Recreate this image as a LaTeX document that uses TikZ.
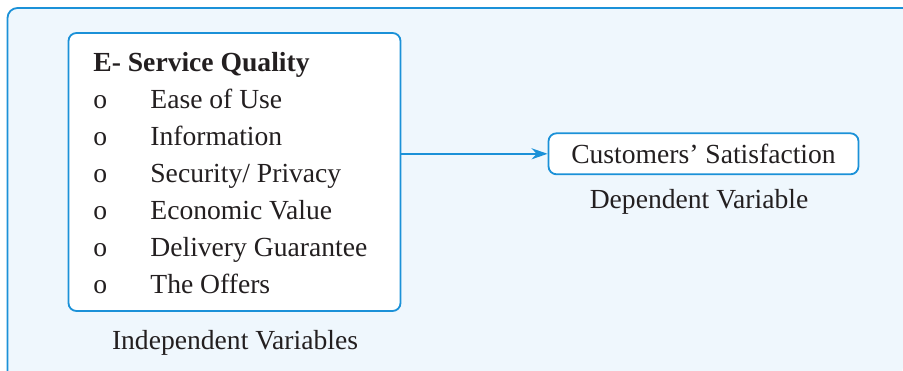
\documentclass[tikz,border=0pt]{standalone}
\usepackage{fontspec}
\setmainfont{Liberation Serif}
\usetikzlibrary{arrows.meta}
\definecolor{frameblue}{RGB}{27,145,216}
\definecolor{paleblue}{RGB}{239,247,253}
\definecolor{inkgray}{HTML}{231F20}
\begin{document}
\begin{tikzpicture}[x=0.5pt,y=-0.5pt,
	varbox/.style={draw=frameblue, line width=0.9pt, fill=white, rounded corners=4pt, inner sep=0pt},
	txt/.style={text=inkgray, font=\fontsize{13.8}{16}\selectfont, inner sep=0pt},
	item/.style={txt, anchor=base west}]
		\useasboundingbox (0,0) rectangle (903,370);

		% pale panel behind everything, open on the right and at the bottom
		\fill[paleblue] (7.5,8) [rounded corners=5pt] -- (7.5,377) -- (903,377) [sharp corners] -- (903,8) [rounded corners=5pt] -- cycle;
		\draw[frameblue, line width=0.9pt, rounded corners=5pt] (903,8) -- (7.5,8) -- (7.5,377);

		% independent side
		\node[varbox, minimum width=166pt, minimum height=139pt] (ivbox) at (234.5,172) {};
		\node[item] (title) at (93,71) {\bfseries E- Service Quality};
		\foreach \lbl [count=\i] in {Ease of Use, Information, Security/ Privacy, Economic Value, Delivery Guarantee, The Offers} {
			\node[item] (bul\i) at (93,{71+37*\i}) {o};
			\node[item] (itm\i) at (150,{71+37*\i}) {\lbl};
		}
		\node[txt, anchor=base] (ivlabel) at (235,349) {Independent Variables};

		% dependent side
		\node[varbox, txt, minimum width=155pt, minimum height=20.5pt] (dvbox) at (703.5,153.8) {Customers' Satisfaction};
		\node[txt, anchor=base] (dvlabel) at (699,208) {Dependent Variable};

		\draw[frameblue, line width=0.9pt, -{Stealth[length=8pt,width=5.5pt,inset=2.5pt]}] (ivbox.east |- dvbox.west) -- (dvbox.west);

	\end{tikzpicture}
\end{document}
